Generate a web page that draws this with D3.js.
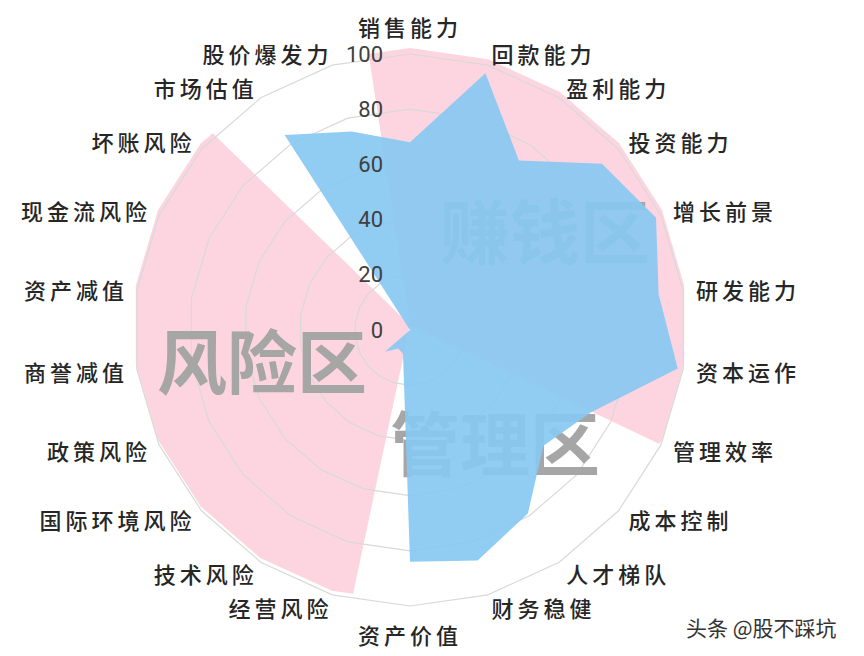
<!DOCTYPE html>
<html>
<head>
<meta charset="utf-8">
<script src="https://cdn.jsdelivr.net/npm/d3@7"></script>
<style>
  html, body { margin: 0; padding: 0; background: #fff; }
  svg { display: block; }
</style>
</head>
<body>
<div id="chart"></div>
<script>
const WIDTH = 864;
const HEIGHT = 656;
const CENTER = { x: 410, y: 330 };
const RADIUS = 276;
const ZONE_CENTER = { x: 410, y: 325 };
const ZONE_RADIUS = 277;
const LABEL_RADIUS = 289;

// categories clockwise from the top
const CATEGORIES = ['销售能力', '回款能力', '盈利能力', '投资能力', '增长前景', '研发能力', '资本运作',
  '管理效率', '成本控制', '人才梯队', '财务稳健', '资产价值', '经营风险', '技术风险', '国际环境风险',
  '政策风险', '商誉减值', '资产减值', '现金流风险', '坏账风险', '市场估值', '股价爆发力'];
const SCORES = [68, 97, 73, 92, 98, 91, 98, 72, 64, 79, 87, 84, 9, 8, 12, 0, 0, 0, 0, 0, 84, 75];
const TICKS = [0, 20, 40, 60, 80, 100];

// pink background zones, measured in category steps
const ZONE_FROM = [-0.53, 11.73];
const ZONE_TO = [7.06, 19.2];
const ZONE_NAMES = ['赚钱区', '风险区', '管理区'];
const ZONE_LABEL_POS = [[545, 228], [262, 358], [495, 440]];

class RadarChart {
  svg = null;
  scores = [];
  constructor() { }
  select(id) {
    this.svg = d3.select(id).append('svg')
      .attr('width', WIDTH)
      .attr('height', HEIGHT);
    this.angle = d3.scaleLinear().domain([0, CATEGORIES.length]).range([0, 2 * Math.PI]);
    this.r = d3.scaleLinear().domain([0, 100]).range([0, RADIUS]);
    return this;
  }
  data(scores) {
    this.scores = scores;
    return this;
  }
  // point on the zone polygon (vertices sit on the category axes)
  #zonePoint(t) {
    const a = this.angle(t);
    const k = Math.floor(t);
    let rr = ZONE_RADIUS;
    if (t !== k) {
      const half = Math.PI / CATEGORIES.length;
      rr = ZONE_RADIUS * Math.cos(half) / Math.cos(a - this.angle(k + 0.5));
    }
    return [rr * Math.sin(a), -rr * Math.cos(a)];
  }
  draw() {
    // zones
    const zoneG = this.svg.append('g')
      .attr('transform', `translate(${ZONE_CENTER.x},${ZONE_CENTER.y})`);
    ZONE_FROM.forEach((from, i) => {
      const to = ZONE_TO[i];
      const pts = [[0, 0], this.#zonePoint(from)];
      for (let k = Math.ceil(from); k <= Math.floor(to); k++) pts.push(this.#zonePoint(k));
      pts.push(this.#zonePoint(to));
      zoneG.append('path')
        .attr('d', d3.line()(pts) + 'Z')
        .attr('fill', '#fcd5e0');
    });

    const g = this.svg.append('g')
      .attr('transform', `translate(${CENTER.x},${CENTER.y})`);

    // grid polygons
    const ring = d3.lineRadial().curve(d3.curveLinearClosed);
    g.selectAll('path.grid')
      .data(TICKS.filter(t => t > 0))
      .join('path')
      .attr('class', 'grid')
      .attr('d', t => ring(CATEGORIES.map((c, i) => [this.angle(i), this.r(t)])))
      .attr('fill', 'none')
      .attr('stroke', '#d9d9d9')
      .attr('stroke-width', 1.2);

    // big zone names, under the score area
    g.selectAll('text.zone')
      .data(ZONE_NAMES)
      .join('text')
      .attr('class', 'zone')
      .attr('x', (d, i) => ZONE_LABEL_POS[i][0] - CENTER.x)
      .attr('y', (d, i) => ZONE_LABEL_POS[i][1] - CENTER.y)
      .attr('text-anchor', 'middle')
      .attr('dominant-baseline', 'central')
      .style('font-family', '"Noto Sans CJK SC", sans-serif')
      .style('font-weight', 700)
      .style('font-size', '70px')
      .attr('fill', '#a6a6a6')
      .text(d => d);

    // score area
    g.append('path')
      .attr('d', ring(this.scores.map((v, i) => [this.angle(i), this.r(v)])))
      .attr('fill', '#88c8f2')
      .attr('fill-opacity', 0.92);

    // tick labels
    g.selectAll('text.tick')
      .data(TICKS)
      .join('text')
      .attr('class', 'tick')
      .attr('x', -27)
      .attr('y', t => -this.r(t))
      .attr('text-anchor', 'end')
      .attr('dominant-baseline', 'central')
      .style('font-family', 'Roboto, sans-serif')
      .style('font-size', '22px')
      .attr('fill', '#404040')
      .text(t => t);

    // category labels
    g.selectAll('text.cat')
      .data(CATEGORIES)
      .join('text')
      .attr('class', 'cat')
      .each((d, i, nodes) => {
        const a = this.angle(i);
        const s = Math.sin(a), c = Math.cos(a);
        let x = LABEL_RADIUS * s;
        let y = -LABEL_RADIUS * c;
        let anchor = 'middle';
        if (s > 0.05) anchor = 'start';
        else if (s < -0.05) { anchor = 'end'; x += 4; }
        else y -= Math.sign(c) * 15;
        d3.select(nodes[i])
          .attr('x', x)
          .attr('y', y)
          .attr('text-anchor', anchor);
      })
      .attr('dominant-baseline', 'central')
      .style('font-family', '"Noto Sans CJK SC", sans-serif')
      .style('font-weight', 500)
      .style('font-size', '22px')
      .style('letter-spacing', '4px')
      .attr('fill', '#262626')
      .text(d => d);

    // watermark
    this.svg.append('text')
      .attr('x', 686)
      .attr('y', 627)
      .attr('dominant-baseline', 'central')
      .style('font-family', '"Noto Sans CJK SC", sans-serif')
      .style('font-size', '21px')
      .attr('fill', '#333')
      .text('头条 @股不踩坑');
  }
}

new RadarChart().select('#chart').data(SCORES).draw();
</script>
</body>
</html>
